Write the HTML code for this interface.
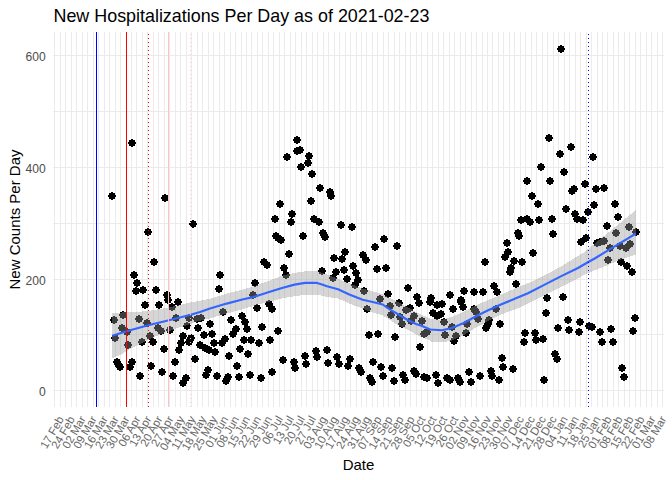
<!DOCTYPE html>
<html><head><meta charset="utf-8"><title>New Hospitalizations Per Day</title>
<style>html,body{margin:0;padding:0;background:#fff;}body{width:672px;height:480px;overflow:hidden;position:relative;font-family:"Liberation Sans",sans-serif;}</style></head>
<body>
<svg width="672" height="480" viewBox="0 0 672 480" style="position:absolute;left:0;top:0">
<rect width="672" height="480" fill="#fff"/>
<g shape-rendering="crispEdges" fill="#EBEBEB">
<rect x="53.2" y="390" width="610.7" height="1"/>
<rect x="53.2" y="334" width="610.7" height="1"/>
<rect x="53.2" y="279" width="610.7" height="1"/>
<rect x="53.2" y="223" width="610.7" height="1"/>
<rect x="53.2" y="167" width="610.7" height="1"/>
<rect x="53.2" y="111" width="610.7" height="1"/>
<rect x="53.2" y="55" width="610.7" height="1"/>
<rect x="54" y="31.9" width="1" height="374.9"/>
<rect x="60" y="31.9" width="1" height="374.9"/>
<rect x="65" y="31.9" width="1" height="374.9"/>
<rect x="71" y="31.9" width="1" height="374.9"/>
<rect x="76" y="31.9" width="1" height="374.9"/>
<rect x="82" y="31.9" width="1" height="374.9"/>
<rect x="87" y="31.9" width="1" height="374.9"/>
<rect x="93" y="31.9" width="1" height="374.9"/>
<rect x="98" y="31.9" width="1" height="374.9"/>
<rect x="104" y="31.9" width="1" height="374.9"/>
<rect x="109" y="31.9" width="1" height="374.9"/>
<rect x="115" y="31.9" width="1" height="374.9"/>
<rect x="120" y="31.9" width="1" height="374.9"/>
<rect x="126" y="31.9" width="1" height="374.9"/>
<rect x="131" y="31.9" width="1" height="374.9"/>
<rect x="136" y="31.9" width="1" height="374.9"/>
<rect x="142" y="31.9" width="1" height="374.9"/>
<rect x="147" y="31.9" width="1" height="374.9"/>
<rect x="153" y="31.9" width="1" height="374.9"/>
<rect x="158" y="31.9" width="1" height="374.9"/>
<rect x="164" y="31.9" width="1" height="374.9"/>
<rect x="169" y="31.9" width="1" height="374.9"/>
<rect x="175" y="31.9" width="1" height="374.9"/>
<rect x="180" y="31.9" width="1" height="374.9"/>
<rect x="186" y="31.9" width="1" height="374.9"/>
<rect x="191" y="31.9" width="1" height="374.9"/>
<rect x="197" y="31.9" width="1" height="374.9"/>
<rect x="202" y="31.9" width="1" height="374.9"/>
<rect x="208" y="31.9" width="1" height="374.9"/>
<rect x="213" y="31.9" width="1" height="374.9"/>
<rect x="219" y="31.9" width="1" height="374.9"/>
<rect x="224" y="31.9" width="1" height="374.9"/>
<rect x="230" y="31.9" width="1" height="374.9"/>
<rect x="235" y="31.9" width="1" height="374.9"/>
<rect x="241" y="31.9" width="1" height="374.9"/>
<rect x="246" y="31.9" width="1" height="374.9"/>
<rect x="251" y="31.9" width="1" height="374.9"/>
<rect x="257" y="31.9" width="1" height="374.9"/>
<rect x="262" y="31.9" width="1" height="374.9"/>
<rect x="268" y="31.9" width="1" height="374.9"/>
<rect x="273" y="31.9" width="1" height="374.9"/>
<rect x="279" y="31.9" width="1" height="374.9"/>
<rect x="284" y="31.9" width="1" height="374.9"/>
<rect x="290" y="31.9" width="1" height="374.9"/>
<rect x="295" y="31.9" width="1" height="374.9"/>
<rect x="301" y="31.9" width="1" height="374.9"/>
<rect x="306" y="31.9" width="1" height="374.9"/>
<rect x="312" y="31.9" width="1" height="374.9"/>
<rect x="317" y="31.9" width="1" height="374.9"/>
<rect x="323" y="31.9" width="1" height="374.9"/>
<rect x="328" y="31.9" width="1" height="374.9"/>
<rect x="334" y="31.9" width="1" height="374.9"/>
<rect x="339" y="31.9" width="1" height="374.9"/>
<rect x="345" y="31.9" width="1" height="374.9"/>
<rect x="350" y="31.9" width="1" height="374.9"/>
<rect x="356" y="31.9" width="1" height="374.9"/>
<rect x="361" y="31.9" width="1" height="374.9"/>
<rect x="366" y="31.9" width="1" height="374.9"/>
<rect x="372" y="31.9" width="1" height="374.9"/>
<rect x="377" y="31.9" width="1" height="374.9"/>
<rect x="383" y="31.9" width="1" height="374.9"/>
<rect x="388" y="31.9" width="1" height="374.9"/>
<rect x="394" y="31.9" width="1" height="374.9"/>
<rect x="399" y="31.9" width="1" height="374.9"/>
<rect x="405" y="31.9" width="1" height="374.9"/>
<rect x="410" y="31.9" width="1" height="374.9"/>
<rect x="416" y="31.9" width="1" height="374.9"/>
<rect x="421" y="31.9" width="1" height="374.9"/>
<rect x="427" y="31.9" width="1" height="374.9"/>
<rect x="432" y="31.9" width="1" height="374.9"/>
<rect x="438" y="31.9" width="1" height="374.9"/>
<rect x="443" y="31.9" width="1" height="374.9"/>
<rect x="449" y="31.9" width="1" height="374.9"/>
<rect x="454" y="31.9" width="1" height="374.9"/>
<rect x="460" y="31.9" width="1" height="374.9"/>
<rect x="465" y="31.9" width="1" height="374.9"/>
<rect x="471" y="31.9" width="1" height="374.9"/>
<rect x="476" y="31.9" width="1" height="374.9"/>
<rect x="482" y="31.9" width="1" height="374.9"/>
<rect x="487" y="31.9" width="1" height="374.9"/>
<rect x="492" y="31.9" width="1" height="374.9"/>
<rect x="498" y="31.9" width="1" height="374.9"/>
<rect x="503" y="31.9" width="1" height="374.9"/>
<rect x="509" y="31.9" width="1" height="374.9"/>
<rect x="514" y="31.9" width="1" height="374.9"/>
<rect x="520" y="31.9" width="1" height="374.9"/>
<rect x="525" y="31.9" width="1" height="374.9"/>
<rect x="531" y="31.9" width="1" height="374.9"/>
<rect x="536" y="31.9" width="1" height="374.9"/>
<rect x="542" y="31.9" width="1" height="374.9"/>
<rect x="547" y="31.9" width="1" height="374.9"/>
<rect x="553" y="31.9" width="1" height="374.9"/>
<rect x="558" y="31.9" width="1" height="374.9"/>
<rect x="564" y="31.9" width="1" height="374.9"/>
<rect x="569" y="31.9" width="1" height="374.9"/>
<rect x="575" y="31.9" width="1" height="374.9"/>
<rect x="580" y="31.9" width="1" height="374.9"/>
<rect x="586" y="31.9" width="1" height="374.9"/>
<rect x="591" y="31.9" width="1" height="374.9"/>
<rect x="597" y="31.9" width="1" height="374.9"/>
<rect x="602" y="31.9" width="1" height="374.9"/>
<rect x="607" y="31.9" width="1" height="374.9"/>
<rect x="613" y="31.9" width="1" height="374.9"/>
<rect x="618" y="31.9" width="1" height="374.9"/>
<rect x="624" y="31.9" width="1" height="374.9"/>
<rect x="629" y="31.9" width="1" height="374.9"/>
<rect x="635" y="31.9" width="1" height="374.9"/>
<rect x="640" y="31.9" width="1" height="374.9"/>
<rect x="646" y="31.9" width="1" height="374.9"/>
<rect x="651" y="31.9" width="1" height="374.9"/>
<rect x="657" y="31.9" width="1" height="374.9"/>
<rect x="662" y="31.9" width="1" height="374.9"/>
</g>
<defs><path id="p" d="M3,0h2v1h2v2h1v2h-1v2h-2v1h-2v-1h-2v-2h-1v-2h1v-2h2z"/></defs>
<g fill="#000" shape-rendering="crispEdges">
<use href="#p" x="128" y="139"/>
<use href="#p" x="108" y="192"/>
<use href="#p" x="161" y="194"/>
<use href="#p" x="189" y="220"/>
<use href="#p" x="144" y="228"/>
<use href="#p" x="150" y="258"/>
<use href="#p" x="130" y="271"/>
<use href="#p" x="133" y="279"/>
<use href="#p" x="132" y="287"/>
<use href="#p" x="139" y="286"/>
<use href="#p" x="152" y="286"/>
<use href="#p" x="163" y="291"/>
<use href="#p" x="164" y="296"/>
<use href="#p" x="174" y="298"/>
<use href="#p" x="141" y="301"/>
<use href="#p" x="155" y="301"/>
<use href="#p" x="168" y="303"/>
<use href="#p" x="110" y="316"/>
<use href="#p" x="119" y="311"/>
<use href="#p" x="135" y="315"/>
<use href="#p" x="143" y="319"/>
<use href="#p" x="118" y="324"/>
<use href="#p" x="123" y="328"/>
<use href="#p" x="111" y="334"/>
<use href="#p" x="124" y="341"/>
<use href="#p" x="138" y="338"/>
<use href="#p" x="146" y="332"/>
<use href="#p" x="149" y="338"/>
<use href="#p" x="154" y="324"/>
<use href="#p" x="157" y="327"/>
<use href="#p" x="166" y="326"/>
<use href="#p" x="172" y="314"/>
<use href="#p" x="185" y="314"/>
<use href="#p" x="193" y="315"/>
<use href="#p" x="197" y="314"/>
<use href="#p" x="183" y="322"/>
<use href="#p" x="194" y="324"/>
<use href="#p" x="206" y="320"/>
<use href="#p" x="200" y="331"/>
<use href="#p" x="208" y="330"/>
<use href="#p" x="179" y="332"/>
<use href="#p" x="177" y="339"/>
<use href="#p" x="175" y="346"/>
<use href="#p" x="187" y="334"/>
<use href="#p" x="185" y="338"/>
<use href="#p" x="160" y="345"/>
<use href="#p" x="196" y="341"/>
<use href="#p" x="201" y="344"/>
<use href="#p" x="205" y="346"/>
<use href="#p" x="211" y="348"/>
<use href="#p" x="210" y="339"/>
<use href="#p" x="113" y="358"/>
<use href="#p" x="114" y="360"/>
<use href="#p" x="116" y="363"/>
<use href="#p" x="128" y="358"/>
<use href="#p" x="126" y="363"/>
<use href="#p" x="147" y="362"/>
<use href="#p" x="171" y="358"/>
<use href="#p" x="191" y="355"/>
<use href="#p" x="136" y="372"/>
<use href="#p" x="158" y="368"/>
<use href="#p" x="169" y="372"/>
<use href="#p" x="182" y="374"/>
<use href="#p" x="179" y="379"/>
<use href="#p" x="204" y="366"/>
<use href="#p" x="202" y="371"/>
<use href="#p" x="216" y="271"/>
<use href="#p" x="215" y="285"/>
<use href="#p" x="251" y="279"/>
<use href="#p" x="249" y="291"/>
<use href="#p" x="253" y="304"/>
<use href="#p" x="265" y="300"/>
<use href="#p" x="268" y="305"/>
<use href="#p" x="260" y="258"/>
<use href="#p" x="263" y="261"/>
<use href="#p" x="272" y="232"/>
<use href="#p" x="274" y="234"/>
<use href="#p" x="277" y="236"/>
<use href="#p" x="285" y="250"/>
<use href="#p" x="280" y="264"/>
<use href="#p" x="282" y="271"/>
<use href="#p" x="299" y="232"/>
<use href="#p" x="319" y="229"/>
<use href="#p" x="321" y="233"/>
<use href="#p" x="318" y="267"/>
<use href="#p" x="293" y="136"/>
<use href="#p" x="293" y="147"/>
<use href="#p" x="296" y="146"/>
<use href="#p" x="283" y="153"/>
<use href="#p" x="305" y="152"/>
<use href="#p" x="304" y="159"/>
<use href="#p" x="297" y="163"/>
<use href="#p" x="308" y="170"/>
<use href="#p" x="316" y="184"/>
<use href="#p" x="307" y="197"/>
<use href="#p" x="276" y="200"/>
<use href="#p" x="271" y="215"/>
<use href="#p" x="288" y="210"/>
<use href="#p" x="287" y="218"/>
<use href="#p" x="310" y="215"/>
<use href="#p" x="315" y="218"/>
<use href="#p" x="326" y="188"/>
<use href="#p" x="327" y="192"/>
<use href="#p" x="337" y="221"/>
<use href="#p" x="348" y="223"/>
<use href="#p" x="380" y="235"/>
<use href="#p" x="371" y="243"/>
<use href="#p" x="393" y="242"/>
<use href="#p" x="341" y="248"/>
<use href="#p" x="330" y="254"/>
<use href="#p" x="338" y="255"/>
<use href="#p" x="359" y="251"/>
<use href="#p" x="362" y="256"/>
<use href="#p" x="349" y="262"/>
<use href="#p" x="340" y="266"/>
<use href="#p" x="332" y="268"/>
<use href="#p" x="329" y="274"/>
<use href="#p" x="352" y="269"/>
<use href="#p" x="354" y="276"/>
<use href="#p" x="351" y="281"/>
<use href="#p" x="343" y="275"/>
<use href="#p" x="373" y="265"/>
<use href="#p" x="382" y="264"/>
<use href="#p" x="360" y="287"/>
<use href="#p" x="404" y="284"/>
<use href="#p" x="384" y="290"/>
<use href="#p" x="376" y="295"/>
<use href="#p" x="413" y="293"/>
<use href="#p" x="415" y="299"/>
<use href="#p" x="395" y="299"/>
<use href="#p" x="386" y="302"/>
<use href="#p" x="363" y="305"/>
<use href="#p" x="426" y="298"/>
<use href="#p" x="219" y="308"/>
<use href="#p" x="227" y="316"/>
<use href="#p" x="238" y="312"/>
<use href="#p" x="241" y="318"/>
<use href="#p" x="243" y="325"/>
<use href="#p" x="258" y="323"/>
<use href="#p" x="274" y="327"/>
<use href="#p" x="232" y="325"/>
<use href="#p" x="229" y="330"/>
<use href="#p" x="221" y="335"/>
<use href="#p" x="218" y="339"/>
<use href="#p" x="240" y="336"/>
<use href="#p" x="247" y="336"/>
<use href="#p" x="255" y="339"/>
<use href="#p" x="266" y="336"/>
<use href="#p" x="236" y="345"/>
<use href="#p" x="244" y="350"/>
<use href="#p" x="225" y="352"/>
<use href="#p" x="233" y="362"/>
<use href="#p" x="213" y="372"/>
<use href="#p" x="224" y="373"/>
<use href="#p" x="222" y="377"/>
<use href="#p" x="235" y="373"/>
<use href="#p" x="246" y="371"/>
<use href="#p" x="257" y="374"/>
<use href="#p" x="268" y="368"/>
<use href="#p" x="279" y="356"/>
<use href="#p" x="290" y="358"/>
<use href="#p" x="291" y="364"/>
<use href="#p" x="301" y="352"/>
<use href="#p" x="302" y="360"/>
<use href="#p" x="312" y="347"/>
<use href="#p" x="313" y="353"/>
<use href="#p" x="323" y="346"/>
<use href="#p" x="324" y="359"/>
<use href="#p" x="333" y="353"/>
<use href="#p" x="335" y="360"/>
<use href="#p" x="346" y="355"/>
<use href="#p" x="344" y="362"/>
<use href="#p" x="355" y="364"/>
<use href="#p" x="357" y="368"/>
<use href="#p" x="366" y="374"/>
<use href="#p" x="368" y="378"/>
<use href="#p" x="369" y="358"/>
<use href="#p" x="377" y="363"/>
<use href="#p" x="379" y="372"/>
<use href="#p" x="388" y="364"/>
<use href="#p" x="390" y="377"/>
<use href="#p" x="399" y="371"/>
<use href="#p" x="401" y="376"/>
<use href="#p" x="410" y="367"/>
<use href="#p" x="412" y="370"/>
<use href="#p" x="420" y="373"/>
<use href="#p" x="423" y="374"/>
<use href="#p" x="416" y="343"/>
<use href="#p" x="365" y="331"/>
<use href="#p" x="374" y="330"/>
<use href="#p" x="391" y="333"/>
<use href="#p" x="387" y="311"/>
<use href="#p" x="402" y="306"/>
<use href="#p" x="406" y="304"/>
<use href="#p" x="396" y="313"/>
<use href="#p" x="398" y="320"/>
<use href="#p" x="410" y="312"/>
<use href="#p" x="407" y="317"/>
<use href="#p" x="418" y="317"/>
<use href="#p" x="420" y="330"/>
<use href="#p" x="423" y="328"/>
<use href="#p" x="432" y="371"/>
<use href="#p" x="434" y="379"/>
<use href="#p" x="443" y="374"/>
<use href="#p" x="446" y="376"/>
<use href="#p" x="454" y="374"/>
<use href="#p" x="456" y="378"/>
<use href="#p" x="465" y="368"/>
<use href="#p" x="467" y="378"/>
<use href="#p" x="476" y="372"/>
<use href="#p" x="487" y="367"/>
<use href="#p" x="488" y="372"/>
<use href="#p" x="495" y="376"/>
<use href="#p" x="498" y="354"/>
<use href="#p" x="499" y="363"/>
<use href="#p" x="509" y="365"/>
<use href="#p" x="521" y="329"/>
<use href="#p" x="520" y="338"/>
<use href="#p" x="496" y="320"/>
<use href="#p" x="485" y="316"/>
<use href="#p" x="484" y="320"/>
<use href="#p" x="482" y="324"/>
<use href="#p" x="492" y="305"/>
<use href="#p" x="474" y="315"/>
<use href="#p" x="470" y="305"/>
<use href="#p" x="472" y="308"/>
<use href="#p" x="463" y="320"/>
<use href="#p" x="462" y="329"/>
<use href="#p" x="452" y="332"/>
<use href="#p" x="450" y="337"/>
<use href="#p" x="448" y="323"/>
<use href="#p" x="440" y="318"/>
<use href="#p" x="441" y="331"/>
<use href="#p" x="429" y="309"/>
<use href="#p" x="433" y="312"/>
<use href="#p" x="437" y="310"/>
<use href="#p" x="433" y="301"/>
<use href="#p" x="438" y="300"/>
<use href="#p" x="449" y="305"/>
<use href="#p" x="457" y="298"/>
<use href="#p" x="459" y="303"/>
<use href="#p" x="531" y="329"/>
<use href="#p" x="532" y="336"/>
<use href="#p" x="539" y="335"/>
<use href="#p" x="542" y="309"/>
<use href="#p" x="554" y="324"/>
<use href="#p" x="564" y="316"/>
<use href="#p" x="565" y="326"/>
<use href="#p" x="576" y="318"/>
<use href="#p" x="575" y="328"/>
<use href="#p" x="585" y="322"/>
<use href="#p" x="588" y="323"/>
<use href="#p" x="596" y="328"/>
<use href="#p" x="598" y="338"/>
<use href="#p" x="607" y="325"/>
<use href="#p" x="609" y="338"/>
<use href="#p" x="551" y="350"/>
<use href="#p" x="553" y="355"/>
<use href="#p" x="540" y="376"/>
<use href="#p" x="618" y="364"/>
<use href="#p" x="620" y="373"/>
<use href="#p" x="629" y="327"/>
<use href="#p" x="631" y="314"/>
<use href="#p" x="517" y="216"/>
<use href="#p" x="523" y="215"/>
<use href="#p" x="526" y="218"/>
<use href="#p" x="514" y="229"/>
<use href="#p" x="515" y="232"/>
<use href="#p" x="503" y="239"/>
<use href="#p" x="504" y="248"/>
<use href="#p" x="501" y="253"/>
<use href="#p" x="510" y="257"/>
<use href="#p" x="518" y="258"/>
<use href="#p" x="507" y="264"/>
<use href="#p" x="506" y="268"/>
<use href="#p" x="481" y="258"/>
<use href="#p" x="512" y="280"/>
<use href="#p" x="490" y="282"/>
<use href="#p" x="493" y="288"/>
<use href="#p" x="479" y="288"/>
<use href="#p" x="470" y="288"/>
<use href="#p" x="460" y="287"/>
<use href="#p" x="446" y="291"/>
<use href="#p" x="457" y="296"/>
<use href="#p" x="427" y="294"/>
<use href="#p" x="534" y="200"/>
<use href="#p" x="535" y="216"/>
<use href="#p" x="548" y="215"/>
<use href="#p" x="549" y="230"/>
<use href="#p" x="529" y="249"/>
<use href="#p" x="562" y="205"/>
<use href="#p" x="571" y="210"/>
<use href="#p" x="573" y="215"/>
<use href="#p" x="579" y="216"/>
<use href="#p" x="584" y="208"/>
<use href="#p" x="590" y="201"/>
<use href="#p" x="611" y="200"/>
<use href="#p" x="614" y="213"/>
<use href="#p" x="603" y="222"/>
<use href="#p" x="582" y="234"/>
<use href="#p" x="577" y="238"/>
<use href="#p" x="593" y="239"/>
<use href="#p" x="596" y="238"/>
<use href="#p" x="600" y="237"/>
<use href="#p" x="612" y="229"/>
<use href="#p" x="625" y="223"/>
<use href="#p" x="632" y="228"/>
<use href="#p" x="606" y="244"/>
<use href="#p" x="616" y="242"/>
<use href="#p" x="622" y="244"/>
<use href="#p" x="626" y="240"/>
<use href="#p" x="604" y="256"/>
<use href="#p" x="617" y="258"/>
<use href="#p" x="623" y="262"/>
<use href="#p" x="628" y="268"/>
<use href="#p" x="543" y="294"/>
<use href="#p" x="559" y="293"/>
<use href="#p" x="557" y="45"/>
<use href="#p" x="545" y="134"/>
<use href="#p" x="567" y="143"/>
<use href="#p" x="556" y="150"/>
<use href="#p" x="589" y="153"/>
<use href="#p" x="537" y="163"/>
<use href="#p" x="560" y="168"/>
<use href="#p" x="523" y="177"/>
<use href="#p" x="546" y="177"/>
<use href="#p" x="581" y="180"/>
<use href="#p" x="570" y="185"/>
<use href="#p" x="568" y="187"/>
<use href="#p" x="592" y="185"/>
<use href="#p" x="600" y="184"/>
<use href="#p" x="528" y="192"/>
</g>
<polygon points="112.3,313.0 145.7,311.3 169.0,307.5 190.7,302.5 210.0,298.8 226.0,293.8 243.3,289.3 251.0,287.1 260.0,284.0 271.0,280.0 282.0,275.8 294.5,272.8 305.0,271.3 317.0,271.3 322.0,272.8 327.0,274.5 338.0,278.7 349.3,283.3 362.7,288.7 372.7,291.3 382.7,294.2 389.3,297.5 399.3,302.5 409.3,308.3 419.3,313.7 428.0,317.5 432.0,319.2 442.0,319.7 452.0,317.0 463.7,311.7 477.0,305.0 488.7,299.7 500.3,295.0 515.3,288.3 528.0,283.3 544.7,275.3 561.3,266.3 578.0,255.8 584.0,252.3 603.0,236.8 614.7,227.3 635.9,210.0 635.9,212.0 635.9,254.7 619.7,260.0 603.0,267.0 588.3,273.0 578.0,278.3 561.3,287.0 544.7,295.0 528.0,303.7 515.3,309.4 500.3,314.7 488.7,320.8 477.0,327.0 463.7,335.0 452.0,340.5 442.0,342.5 432.0,341.8 428.0,339.7 419.3,336.0 409.3,330.8 399.3,325.8 391.0,320.8 382.7,315.3 372.7,312.5 362.7,308.7 349.3,303.5 338.0,298.5 327.0,297.0 317.0,294.7 307.0,294.7 294.5,296.2 282.0,298.5 259.3,304.2 242.7,309.2 226.0,313.8 216.0,316.5 211.0,318.3 199.2,320.8 187.5,325.0 176.0,328.5 169.0,331.5 159.2,334.8 148.3,339.8 136.7,345.6 126.7,351.0 121.5,354.2 112.3,358.3" fill="#999999" fill-opacity="0.4" shape-rendering="crispEdges"/>
<polyline points="112.3,335.8 126.5,331.3 148.2,325.3 169.0,320.3 190.7,314.7 200.0,312.0 210.0,308.5 226.7,303.6 243.3,299.3 253.3,297.1 268.3,292.3 282.0,288.0 294.5,284.6 305.0,282.9 317.0,282.9 322.0,284.4 327.0,286.2 338.0,289.3 349.3,294.5 362.7,299.7 372.7,302.0 382.7,304.5 389.3,309.2 399.3,315.0 407.7,320.0 416.0,324.0 422.0,326.0 430.3,329.5 442.0,330.2 452.0,328.0 463.7,323.0 477.0,315.8 488.7,310.0 500.3,304.7 515.3,298.6 528.0,293.2 544.7,284.6 561.3,276.1 578.0,268.0 588.3,262.0 594.7,258.5 611.3,248.3 628.0,238.3 635.9,233.5" fill="none" stroke="#3366FF" stroke-width="2.13" stroke-linejoin="round" stroke-linecap="butt"/>
<g shape-rendering="crispEdges">
<rect x="96" y="31.9" width="1" height="374.9" fill="#0000FF"/>
<rect x="126" y="31.9" width="1" height="374.9" fill="#FF0000"/>
<line x1="148.5" x2="148.5" y1="406.8" y2="31.9" stroke="#FF0000" stroke-width="1" stroke-dasharray="1 3"/>
<rect x="168" y="31.9" width="1" height="374.9" fill="#FFC0CB"/>
<line x1="190.5" x2="190.5" y1="406.8" y2="31.9" stroke="#FFC0CB" stroke-width="1" stroke-dasharray="1 3"/>
<line x1="588.5" x2="588.5" y1="406.8" y2="31.9" stroke="#0000FF" stroke-width="1" stroke-dasharray="1 3"/>
</g>
<g font-family="Liberation Sans, sans-serif">
<text x="53.5" y="22" font-size="17.9" fill="#000">New Hospitalizations Per Day as of 2021-02-23</text>
<text x="45.7" y="396.4" font-size="12.1" fill="#4D4D4D" text-anchor="end">0</text>
<text x="45.7" y="284.7" font-size="12.1" fill="#4D4D4D" text-anchor="end">200</text>
<text x="45.7" y="173.1" font-size="12.1" fill="#4D4D4D" text-anchor="end">400</text>
<text x="45.7" y="61.4" font-size="12.1" fill="#4D4D4D" text-anchor="end">600</text>
<text x="358.5" y="470.2" font-size="15" fill="#000" text-anchor="middle">Date</text>
<text transform="translate(20,219.5) rotate(-90)" font-size="15" fill="#000" text-anchor="middle">New Counts Per Day</text>
<text transform="translate(57.00,414.7) rotate(-60)" font-size="11.4" fill="#666" text-anchor="end" dy="8.4">17 Feb</text>
<text transform="translate(67.95,414.7) rotate(-60)" font-size="11.4" fill="#666" text-anchor="end" dy="8.4">24 Feb</text>
<text transform="translate(78.91,414.7) rotate(-60)" font-size="11.4" fill="#666" text-anchor="end" dy="8.4">02 Mar</text>
<text transform="translate(89.86,414.7) rotate(-60)" font-size="11.4" fill="#666" text-anchor="end" dy="8.4">09 Mar</text>
<text transform="translate(100.82,414.7) rotate(-60)" font-size="11.4" fill="#666" text-anchor="end" dy="8.4">16 Mar</text>
<text transform="translate(111.77,414.7) rotate(-60)" font-size="11.4" fill="#666" text-anchor="end" dy="8.4">23 Mar</text>
<text transform="translate(122.72,414.7) rotate(-60)" font-size="11.4" fill="#666" text-anchor="end" dy="8.4">30 Mar</text>
<text transform="translate(133.68,414.7) rotate(-60)" font-size="11.4" fill="#666" text-anchor="end" dy="8.4">06 Apr</text>
<text transform="translate(144.63,414.7) rotate(-60)" font-size="11.4" fill="#666" text-anchor="end" dy="8.4">13 Apr</text>
<text transform="translate(155.59,414.7) rotate(-60)" font-size="11.4" fill="#666" text-anchor="end" dy="8.4">20 Apr</text>
<text transform="translate(166.54,414.7) rotate(-60)" font-size="11.4" fill="#666" text-anchor="end" dy="8.4">27 Apr</text>
<text transform="translate(177.49,414.7) rotate(-60)" font-size="11.4" fill="#666" text-anchor="end" dy="8.4">04 May</text>
<text transform="translate(188.45,414.7) rotate(-60)" font-size="11.4" fill="#666" text-anchor="end" dy="8.4">11 May</text>
<text transform="translate(199.40,414.7) rotate(-60)" font-size="11.4" fill="#666" text-anchor="end" dy="8.4">18 May</text>
<text transform="translate(210.36,414.7) rotate(-60)" font-size="11.4" fill="#666" text-anchor="end" dy="8.4">25 May</text>
<text transform="translate(221.31,414.7) rotate(-60)" font-size="11.4" fill="#666" text-anchor="end" dy="8.4">01 Jun</text>
<text transform="translate(232.26,414.7) rotate(-60)" font-size="11.4" fill="#666" text-anchor="end" dy="8.4">08 Jun</text>
<text transform="translate(243.22,414.7) rotate(-60)" font-size="11.4" fill="#666" text-anchor="end" dy="8.4">15 Jun</text>
<text transform="translate(254.17,414.7) rotate(-60)" font-size="11.4" fill="#666" text-anchor="end" dy="8.4">22 Jun</text>
<text transform="translate(265.13,414.7) rotate(-60)" font-size="11.4" fill="#666" text-anchor="end" dy="8.4">29 Jun</text>
<text transform="translate(276.08,414.7) rotate(-60)" font-size="11.4" fill="#666" text-anchor="end" dy="8.4">06 Jul</text>
<text transform="translate(287.03,414.7) rotate(-60)" font-size="11.4" fill="#666" text-anchor="end" dy="8.4">13 Jul</text>
<text transform="translate(297.99,414.7) rotate(-60)" font-size="11.4" fill="#666" text-anchor="end" dy="8.4">20 Jul</text>
<text transform="translate(308.94,414.7) rotate(-60)" font-size="11.4" fill="#666" text-anchor="end" dy="8.4">27 Jul</text>
<text transform="translate(319.90,414.7) rotate(-60)" font-size="11.4" fill="#666" text-anchor="end" dy="8.4">03 Aug</text>
<text transform="translate(330.85,414.7) rotate(-60)" font-size="11.4" fill="#666" text-anchor="end" dy="8.4">10 Aug</text>
<text transform="translate(341.80,414.7) rotate(-60)" font-size="11.4" fill="#666" text-anchor="end" dy="8.4">17 Aug</text>
<text transform="translate(352.76,414.7) rotate(-60)" font-size="11.4" fill="#666" text-anchor="end" dy="8.4">24 Aug</text>
<text transform="translate(363.71,414.7) rotate(-60)" font-size="11.4" fill="#666" text-anchor="end" dy="8.4">31 Aug</text>
<text transform="translate(374.67,414.7) rotate(-60)" font-size="11.4" fill="#666" text-anchor="end" dy="8.4">07 Sep</text>
<text transform="translate(385.62,414.7) rotate(-60)" font-size="11.4" fill="#666" text-anchor="end" dy="8.4">14 Sep</text>
<text transform="translate(396.57,414.7) rotate(-60)" font-size="11.4" fill="#666" text-anchor="end" dy="8.4">21 Sep</text>
<text transform="translate(407.53,414.7) rotate(-60)" font-size="11.4" fill="#666" text-anchor="end" dy="8.4">28 Sep</text>
<text transform="translate(418.48,414.7) rotate(-60)" font-size="11.4" fill="#666" text-anchor="end" dy="8.4">05 Oct</text>
<text transform="translate(429.44,414.7) rotate(-60)" font-size="11.4" fill="#666" text-anchor="end" dy="8.4">12 Oct</text>
<text transform="translate(440.39,414.7) rotate(-60)" font-size="11.4" fill="#666" text-anchor="end" dy="8.4">19 Oct</text>
<text transform="translate(451.34,414.7) rotate(-60)" font-size="11.4" fill="#666" text-anchor="end" dy="8.4">26 Oct</text>
<text transform="translate(462.30,414.7) rotate(-60)" font-size="11.4" fill="#666" text-anchor="end" dy="8.4">02 Nov</text>
<text transform="translate(473.25,414.7) rotate(-60)" font-size="11.4" fill="#666" text-anchor="end" dy="8.4">09 Nov</text>
<text transform="translate(484.21,414.7) rotate(-60)" font-size="11.4" fill="#666" text-anchor="end" dy="8.4">16 Nov</text>
<text transform="translate(495.16,414.7) rotate(-60)" font-size="11.4" fill="#666" text-anchor="end" dy="8.4">23 Nov</text>
<text transform="translate(506.11,414.7) rotate(-60)" font-size="11.4" fill="#666" text-anchor="end" dy="8.4">30 Nov</text>
<text transform="translate(517.07,414.7) rotate(-60)" font-size="11.4" fill="#666" text-anchor="end" dy="8.4">07 Dec</text>
<text transform="translate(528.02,414.7) rotate(-60)" font-size="11.4" fill="#666" text-anchor="end" dy="8.4">14 Dec</text>
<text transform="translate(538.98,414.7) rotate(-60)" font-size="11.4" fill="#666" text-anchor="end" dy="8.4">21 Dec</text>
<text transform="translate(549.93,414.7) rotate(-60)" font-size="11.4" fill="#666" text-anchor="end" dy="8.4">28 Dec</text>
<text transform="translate(560.88,414.7) rotate(-60)" font-size="11.4" fill="#666" text-anchor="end" dy="8.4">04 Jan</text>
<text transform="translate(571.84,414.7) rotate(-60)" font-size="11.4" fill="#666" text-anchor="end" dy="8.4">11 Jan</text>
<text transform="translate(582.79,414.7) rotate(-60)" font-size="11.4" fill="#666" text-anchor="end" dy="8.4">18 Jan</text>
<text transform="translate(593.75,414.7) rotate(-60)" font-size="11.4" fill="#666" text-anchor="end" dy="8.4">25 Jan</text>
<text transform="translate(604.70,414.7) rotate(-60)" font-size="11.4" fill="#666" text-anchor="end" dy="8.4">01 Feb</text>
<text transform="translate(615.65,414.7) rotate(-60)" font-size="11.4" fill="#666" text-anchor="end" dy="8.4">08 Feb</text>
<text transform="translate(626.61,414.7) rotate(-60)" font-size="11.4" fill="#666" text-anchor="end" dy="8.4">15 Feb</text>
<text transform="translate(637.56,414.7) rotate(-60)" font-size="11.4" fill="#666" text-anchor="end" dy="8.4">22 Feb</text>
<text transform="translate(648.52,414.7) rotate(-60)" font-size="11.4" fill="#666" text-anchor="end" dy="8.4">01 Mar</text>
<text transform="translate(659.47,414.7) rotate(-60)" font-size="11.4" fill="#666" text-anchor="end" dy="8.4">08 Mar</text>
</g>
</svg>
</body></html>
